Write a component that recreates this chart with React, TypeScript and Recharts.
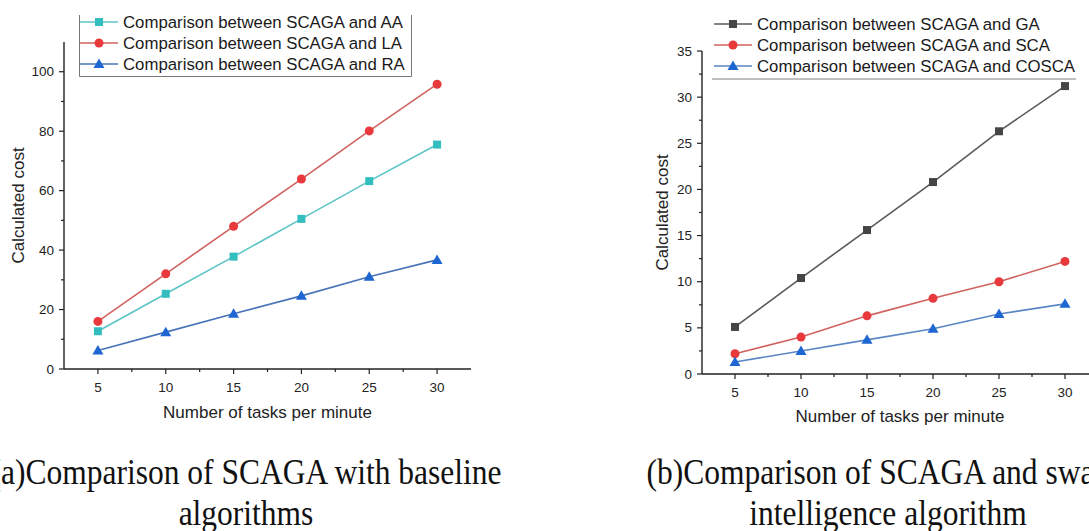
import React from 'react';
import { LineChart, Line, XAxis, YAxis, Legend, Label } from 'recharts';

const tasks = [5, 10, 15, 20, 25, 30];

// (a) baseline algorithms
const aaCost = [12.7, 25.3, 37.8, 50.5, 63.2, 75.5];
const laCost = [16.0, 32.0, 48.0, 63.9, 80.1, 95.8];
const raCost = [6.2, 12.4, 18.6, 24.6, 31.0, 36.7];

// (b) swarm intelligence algorithms
const gaCost = [5.1, 10.4, 15.6, 20.8, 26.3, 31.2];
const scaCost = [2.2, 4.0, 6.3, 8.2, 10.0, 12.2];
const coscaCost = [1.3, 2.5, 3.7, 4.9, 6.5, 7.6];

const xMajor = [5, 10, 15, 20, 25, 30];
const xMinor = [7.5, 12.5, 17.5, 22.5, 27.5];
const yMajorA = [0, 20, 40, 60, 80, 100];
const yMinorA = [10, 30, 50, 70, 90];
const yMajorB = [0, 5, 10, 15, 20, 25, 30, 35];
const yMinorB = [2.5, 7.5, 12.5, 17.5, 22.5, 27.5, 32.5];

const captionA = ['(a)Comparison of SCAGA with baseline', 'algorithms'];
const captionB = ['(b)Comparison of SCAGA and swarm', 'intelligence algorithm'];

type Shape = 'square' | 'circle' | 'triangle';
interface Series {
  key: string;
  name: string;
  line: string;
  fill: string;
  shape: Shape;
}

const seriesA: Series[] = [
  { key: 'aa', name: 'Comparison between SCAGA and AA', line: '#5cc4c6', fill: '#33bdbf', shape: 'square' },
  { key: 'la', name: 'Comparison between SCAGA and LA', line: '#d0625f', fill: '#e8393c', shape: 'circle' },
  { key: 'ra', name: 'Comparison between SCAGA and RA', line: '#4a74b8', fill: '#1e66d2', shape: 'triangle' },
];
const seriesB: Series[] = [
  { key: 'ga', name: 'Comparison between SCAGA and GA', line: '#5a5a5a', fill: '#454545', shape: 'square' },
  { key: 'sca', name: 'Comparison between SCAGA and SCA', line: '#d0625f', fill: '#e8393c', shape: 'circle' },
  { key: 'cosca', name: 'Comparison between SCAGA and COSCA', line: '#5a86c4', fill: '#1e66d2', shape: 'triangle' },
];

const dataA = tasks.map((t, i) => ({ t, aa: aaCost[i], la: laCost[i], ra: raCost[i] }));
const dataB = tasks.map((t, i) => ({ t, ga: gaCost[i], sca: scaCost[i], cosca: coscaCost[i] }));

const FONT = '"Liberation Sans", Arial, sans-serif';

function markerShape(shape: Shape, cx: number, cy: number, fill: string) {
  if (shape === 'square') return <rect x={cx - 4} y={cy - 4} width={8} height={8} fill={fill} />;
  if (shape === 'circle') return <circle cx={cx} cy={cy} r={4.5} fill={fill} />;
  return <path d={`M${cx},${cy - 5.5}L${cx + 5.5},${cy + 4}L${cx - 5.5},${cy + 4}Z`} fill={fill} />;
}

const makeDot = (s: Series) => (props: any) => {
  const { cx, cy, index } = props;
  if (cx == null || cy == null) return <g key={index} />;
  return <g key={`${s.key}-${index}`}>{markerShape(s.shape, cx, cy, s.fill)}</g>;
};

const makeYTick = (majors: number[]) => (props: any) => {
  const { x, y, payload } = props;
  const major = majors.includes(payload.value);
  return (
    <g>
      <line x1={x} x2={x - (major ? 5 : 3)} y1={y} y2={y} stroke="#222" strokeWidth={1.2} />
      {major && (
        <text x={x - 10} y={y} dy={4.5} textAnchor="end" fontSize={13.5} fill="#222" fontFamily={FONT}>
          {payload.value}
        </text>
      )}
    </g>
  );
};

const makeXTick = (majors: number[]) => (props: any) => {
  const { x, y, payload } = props;
  const major = majors.includes(payload.value);
  return (
    <g>
      <line x1={x} x2={x} y1={y} y2={y + (major ? 5 : 3)} stroke="#222" strokeWidth={1.2} />
      {major && (
        <text x={x} y={y + 23} textAnchor="middle" fontSize={13.5} fill="#222" fontFamily={FONT}>
          {payload.value}
        </text>
      )}
    </g>
  );
};

function LegendBox({ series, boxed }: { series: Series[]; boxed: boolean }) {
  const w = boxed ? 333 : 364;
  return (
    <svg width={w} height={64} style={{ display: 'block', overflow: 'visible' }}>
      {boxed ? (
        <path d={`M0.5,0 V61.5 H${w - 0.5} V0`} fill="none" stroke="#777" strokeWidth={1} />
      ) : (
        <line x1={0} x2={w} y1={62} y2={62} stroke="#aaa" strokeWidth={1.5} />
      )}
      {series.map((s, i) => {
        const cy = 7 + i * 21;
        const x0 = boxed ? 1 : 2;
        return (
          <g key={s.key}>
            <line x1={x0} x2={x0 + 38} y1={cy} y2={cy} stroke={s.line} strokeWidth={1.5} />
            {markerShape(s.shape, x0 + 19, cy, s.fill)}
            <text x={x0 + 43} y={cy} dy={6} fontSize={16.8} fill="#1a1a1a" fontFamily={FONT}>
              {s.name}
            </text>
          </g>
        );
      })}
    </svg>
  );
}

function Caption({ lines, center }: { lines: string[]; center: number }) {
  return (
    <div
      style={{
        position: 'absolute',
        left: center - 300,
        width: 600,
        top: 453,
        textAlign: 'center',
        fontFamily: '"Liberation Serif", "Times New Roman", serif',
        fontSize: 31.5,
        lineHeight: '36px',
        color: '#111',
        whiteSpace: 'nowrap',
        transform: 'scaleY(1.12)',
        transformOrigin: 'center top',
      }}
    >
      {lines.map((l) => (
        <div key={l}>{l}</div>
      ))}
    </div>
  );
}

export default function App() {
  const axisStroke = { stroke: '#222', strokeWidth: 1.4 };
  return (
    <div style={{ position: 'absolute', left: 0, top: 0, width: 1089, height: 531, overflow: 'hidden', background: '#fff' }}>
      <div style={{ position: 'absolute', left: 0, top: 0 }}>
        <LineChart width={500} height={430} data={dataA} margin={{ top: 42, right: 29, bottom: 0, left: 0 }}>
          <XAxis
            dataKey="t"
            type="number"
            domain={[2.5, 32.5]}
            ticks={[...xMajor, ...xMinor]}
            tickLine={false}
            tickSize={0}
            tickMargin={0}
            height={61}
            axisLine={axisStroke}
            tick={makeXTick(xMajor)}
            interval={0}
          >
            <Label value="Number of tasks per minute" position="insideBottom" offset={12} fontSize={17} fill="#222" fontFamily={FONT} />
          </XAxis>
          <YAxis
            type="number"
            domain={[0, 110]}
            ticks={[...yMajorA, ...yMinorA]}
            tickLine={false}
            tickSize={0}
            tickMargin={0}
            width={64}
            axisLine={axisStroke}
            tick={makeYTick(yMajorA)}
            interval={0}
          >
            <Label value="Calculated cost" angle={-90} position="insideLeft" offset={18} fontSize={17} fill="#222" fontFamily={FONT} style={{ textAnchor: 'middle' }} />
          </YAxis>
          <Legend
            layout="horizontal"
            verticalAlign="middle"
            align="center"
            wrapperStyle={{ position: 'absolute', top: 15, left: 79, width: 334, height: 64 }}
            content={() => <LegendBox series={seriesA} boxed />}
          />
          {seriesA.map((s) => (
            <Line
              key={s.key}
              dataKey={s.key}
              name={s.name}
              stroke={s.line}
              strokeWidth={1.6}
              dot={makeDot(s)}
              activeDot={false}
              isAnimationActive={false}
            />
          ))}
        </LineChart>
      </div>

      <div style={{ position: 'absolute', left: 620, top: 0 }}>
        <LineChart width={490} height={440} data={dataB} margin={{ top: 51, right: 12, bottom: 0, left: 0 }}>
          <XAxis
            dataKey="t"
            type="number"
            domain={[2.5, 32.5]}
            ticks={[...xMajor, ...xMinor]}
            tickLine={false}
            tickSize={0}
            tickMargin={0}
            height={66}
            axisLine={axisStroke}
            tick={makeXTick(xMajor)}
            interval={0}
          >
            <Label value="Number of tasks per minute" position="insideBottom" offset={18} fontSize={17} fill="#222" fontFamily={FONT} />
          </XAxis>
          <YAxis
            type="number"
            domain={[0, 35]}
            ticks={[...yMajorB, ...yMinorB]}
            tickLine={false}
            tickSize={0}
            tickMargin={0}
            width={82}
            axisLine={axisStroke}
            tick={makeYTick(yMajorB)}
            interval={0}
          >
            <Label value="Calculated cost" angle={-90} position="insideLeft" offset={42} fontSize={17} fill="#222" fontFamily={FONT} style={{ textAnchor: 'middle' }} />
          </YAxis>
          <Legend
            layout="horizontal"
            verticalAlign="middle"
            align="center"
            wrapperStyle={{ position: 'absolute', top: 17, left: 92, width: 364, height: 64 }}
            content={() => <LegendBox series={seriesB} boxed={false} />}
          />
          {seriesB.map((s) => (
            <Line
              key={s.key}
              dataKey={s.key}
              name={s.name}
              stroke={s.line}
              strokeWidth={1.6}
              dot={makeDot(s)}
              activeDot={false}
              isAnimationActive={false}
            />
          ))}
        </LineChart>
      </div>

      <Caption lines={captionA} center={246} />
      <Caption lines={captionB} center={888} />
    </div>
  );
}
